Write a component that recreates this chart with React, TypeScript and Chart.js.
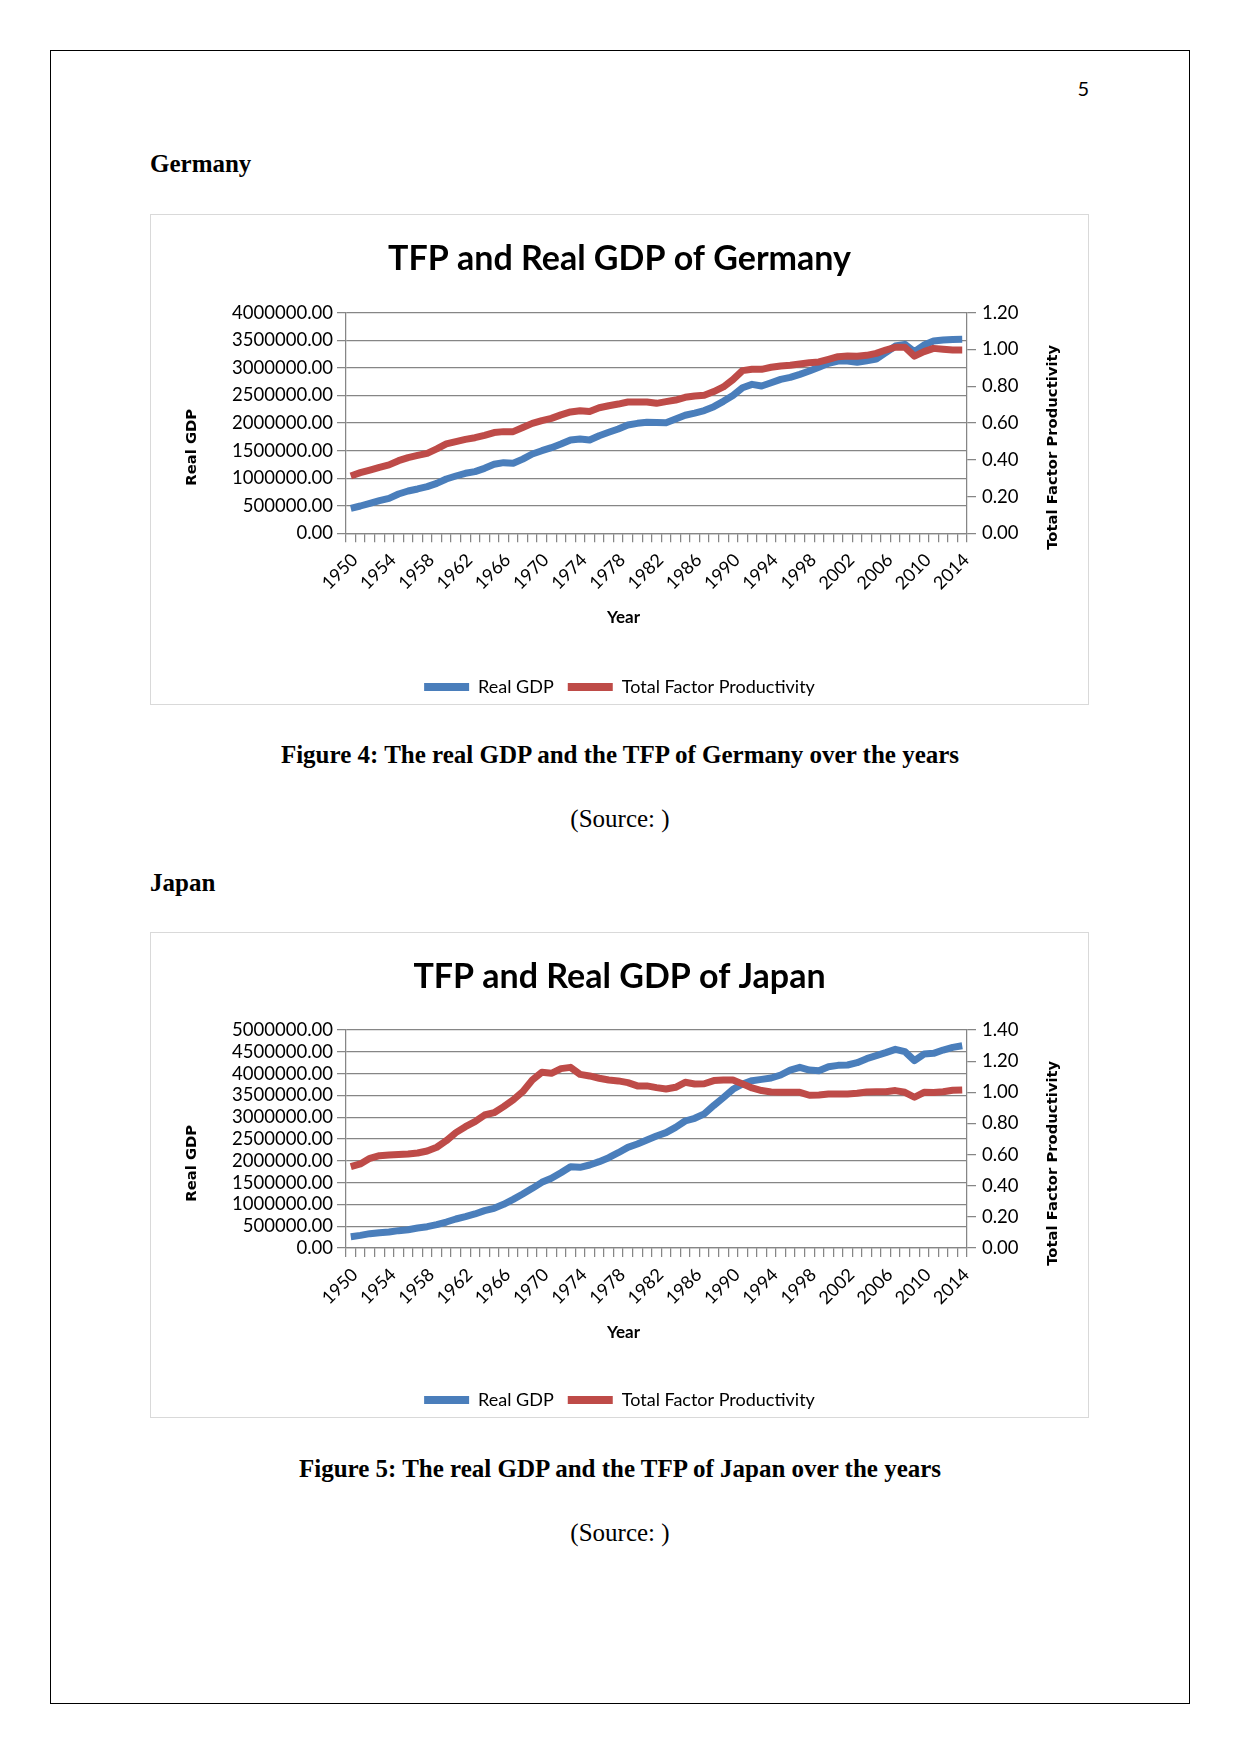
import React, { useEffect, useRef } from 'react';
import { Chart, registerables } from 'chart.js';

Chart.register(...registerables);
Chart.defaults.font.family = 'Lato';
Chart.defaults.color = '#000';

// ---------- data ----------
const years = [
  '1950', '1951', '1952', '1953', '1954', '1955', '1956', '1957', '1958', '1959',
  '1960', '1961', '1962', '1963', '1964', '1965', '1966', '1967', '1968', '1969',
  '1970', '1971', '1972', '1973', '1974', '1975', '1976', '1977', '1978', '1979',
  '1980', '1981', '1982', '1983', '1984', '1985', '1986', '1987', '1988', '1989',
  '1990', '1991', '1992', '1993', '1994', '1995', '1996', '1997', '1998', '1999',
  '2000', '2001', '2002', '2003', '2004', '2005', '2006', '2007', '2008', '2009',
  '2010', '2011', '2012', '2013', '2014',
];
const shownYearLabels = [
  '1950', '1954', '1958', '1962', '1966', '1970', '1974', '1978', '1982',
  '1986', '1990', '1994', '1998', '2002', '2006', '2010', '2014',
];

const germanyGDP = [
  453000, 495000, 544000, 592000, 634000, 713000, 767000, 804000, 846000, 906000,
  985000, 1039000, 1088000, 1118000, 1178000, 1251000, 1281000, 1269000, 1345000, 1438000,
  1498000, 1553000, 1619000, 1692000, 1710000, 1692000, 1770000, 1831000, 1891000, 1964000,
  1994000, 2012000, 2008000, 2003000, 2072000, 2140000, 2180000, 2225000, 2296000, 2393000,
  2500000, 2640000, 2701000, 2670000, 2731000, 2791000, 2828000, 2882000, 2942000, 3009000,
  3081000, 3124000, 3124000, 3100000, 3130000, 3160000, 3275000, 3396000, 3426000, 3293000,
  3414000, 3486000, 3504000, 3516000, 3520000,
];
const germanyTFP = [
  0.312, 0.330, 0.344, 0.359, 0.372, 0.395, 0.412, 0.424, 0.435, 0.459,
  0.486, 0.499, 0.511, 0.520, 0.533, 0.548, 0.553, 0.553, 0.575, 0.598,
  0.613, 0.625, 0.644, 0.660, 0.667, 0.662, 0.683, 0.694, 0.703, 0.714,
  0.714, 0.714, 0.707, 0.716, 0.725, 0.740, 0.747, 0.751, 0.771, 0.796,
  0.836, 0.885, 0.892, 0.892, 0.903, 0.910, 0.914, 0.921, 0.928, 0.932,
  0.946, 0.961, 0.964, 0.963, 0.968, 0.979, 0.997, 1.012, 1.012, 0.964,
  0.988, 1.006, 1.001, 0.997, 0.997,
];
const japanGDP = [
  260000, 290000, 329000, 352000, 367000, 398000, 420000, 459000, 489000, 535000,
  596000, 665000, 719000, 780000, 856000, 910000, 1001000, 1116000, 1238000, 1368000,
  1506000, 1598000, 1728000, 1865000, 1850000, 1904000, 1980000, 2072000, 2186000, 2309000,
  2385000, 2477000, 2569000, 2645000, 2767000, 2913000, 2975000, 3077000, 3270000, 3450000,
  3640000, 3761000, 3838000, 3868000, 3899000, 3968000, 4082000, 4144000, 4082000, 4067000,
  4159000, 4189000, 4197000, 4250000, 4342000, 4411000, 4480000, 4556000, 4503000, 4297000,
  4449000, 4465000, 4541000, 4602000, 4640000,
];
const japanTFP = [
  0.522, 0.540, 0.576, 0.593, 0.597, 0.600, 0.604, 0.610, 0.623, 0.647,
  0.689, 0.741, 0.779, 0.811, 0.854, 0.869, 0.908, 0.951, 1.004, 1.079,
  1.128, 1.122, 1.152, 1.160, 1.115, 1.105, 1.090, 1.079, 1.073, 1.062,
  1.041, 1.041, 1.030, 1.021, 1.032, 1.064, 1.053, 1.055, 1.075, 1.079,
  1.079, 1.054, 1.028, 1.011, 1.002, 1.000, 1.000, 1.000, 0.981, 0.983,
  0.989, 0.989, 0.989, 0.994, 1.002, 1.004, 1.004, 1.011, 1.000, 0.968,
  1.000, 0.998, 1.004, 1.013, 1.015,
];

// axis ranges: [min, max, step]
const germanyGdpAxis = [0, 4000000, 500000];
const germanyTfpAxis = [0, 1.2, 0.2];
const japanGdpAxis = [0, 5000000, 500000];
const japanTfpAxis = [0, 1.4, 0.2];

const seriesNames = ['Real GDP', 'Total Factor Productivity'];
const axisNames = { left: 'Real GDP', right: 'Total Factor Productivity', x: 'Year' };

// ---------- styles ----------
const BLUE = '#4a7ebb';
const RED = '#be4b48';
const GRID = '#868686';

const axisTitlePlugin = {
  id: 'axisTitles',
  afterDraw(chart: any, _args: any, opts: any) {
    const ctx = chart.ctx;
    const items = (opts && opts.items) || [];
    for (let i = 0; i < items.length; i++) {
      const t = items[i];
      ctx.save();
      ctx.translate(t.x, t.y);
      ctx.rotate(t.rotate || 0);
      ctx.font = t.font;
      ctx.fillStyle = '#000';
      ctx.textAlign = 'center';
      ctx.textBaseline = 'middle';
      ctx.fillText(t.text, 0, 0);
      ctx.restore();
    }
  },
};

type Props = {
  title: string;
  gdp: number[];
  tfp: number[];
  gdpAxis: number[];
  tfpAxis: number[];
  plotTop: number;
  plotBottom: number;
  legendCenter: number;
  yearY: number;
  axisTitleY: number;
};

const W = 939;
const H = 500;
const PLOT_LEFT = 196;
const PLOT_RIGHT = 817;

function TfpChart(p: Props) {
  const ref = useRef<HTMLCanvasElement>(null);
  useEffect(() => {
    const titleSize = 34;
    const titleLH = titleSize * 1.2;
    const titlePadTop = 25;
    const titlePadBottom = p.plotTop - titlePadTop - titleLH;
    const legendFont = 18;
    const legendPad = 14;
    const legendTop = p.legendCenter - (legendPad + legendFont / 2);
    const legendH = legendFont + legendPad + 10;
    const xHeight = legendTop - p.plotBottom;
    const padBottom = H - legendTop - legendH;
    const axisTitleFont = 'bold 14.8px "DejaVu Sans"';

    const chart = new Chart(ref.current as HTMLCanvasElement, {
      type: 'line',
      data: {
        labels: years,
        datasets: [
          {
            label: seriesNames[0],
            data: p.gdp,
            yAxisID: 'y',
            borderColor: BLUE,
            backgroundColor: BLUE,
            borderWidth: 7,
            pointRadius: 0,
            borderJoinStyle: 'round',
            order: 1,
          },
          {
            label: seriesNames[1],
            data: p.tfp,
            yAxisID: 'y1',
            borderColor: RED,
            backgroundColor: RED,
            borderWidth: 7,
            pointRadius: 0,
            borderJoinStyle: 'round',
            order: 0,
          },
        ],
      },
      options: {
        responsive: false,
        animation: false,
        devicePixelRatio: 1,
        layout: { padding: { left: 0, right: 0, top: 0, bottom: padBottom } },
        scales: {
          x: {
            type: 'category',
            offset: true,
            grid: {
              offset: true,
              drawOnChartArea: false,
              drawTicks: true,
              tickLength: 9,
              color: GRID,
              lineWidth: 1.25,
            },
            border: { color: GRID, width: 1.25 },
            ticks: {
              autoSkip: false,
              maxRotation: 45,
              minRotation: 45,
              padding: 7,
              labelOffset: 4,
              font: { size: 18 },
              color: '#000',
              callback: (_v: any, i: number) =>
                shownYearLabels.indexOf(years[i]) >= 0 ? years[i] : '',
            },
            afterFit: (s: any) => {
              s.height = xHeight;
            },
          },
          y: {
            position: 'left',
            min: p.gdpAxis[0],
            max: p.gdpAxis[1],
            ticks: {
              stepSize: p.gdpAxis[2],
              autoSkip: false,
              padding: 4,
              font: { size: 18.5 },
              color: '#000',
              callback: (v: any) => Number(v).toFixed(2),
            },
            grid: { color: GRID, lineWidth: 1.25, tickLength: 9 },
            border: { color: GRID, width: 1.25 },
            afterFit: (s: any) => {
              s.width = PLOT_LEFT;
            },
          },
          y1: {
            position: 'right',
            min: p.tfpAxis[0],
            max: p.tfpAxis[1],
            ticks: {
              stepSize: p.tfpAxis[2],
              autoSkip: false,
              padding: 6,
              font: { size: 18.5 },
              color: '#000',
              callback: (v: any) => Number(v).toFixed(2),
            },
            grid: { drawOnChartArea: false, color: GRID, lineWidth: 1.25, tickLength: 9 },
            border: { color: GRID, width: 1.25 },
            afterFit: (s: any) => {
              s.width = W - PLOT_RIGHT;
            },
          },
        },
        plugins: {
          title: {
            display: true,
            text: p.title,
            color: '#000',
            font: { family: 'Lato', size: titleSize, weight: 'bold' },
            padding: { top: titlePadTop, bottom: titlePadBottom },
          },
          legend: {
            display: true,
            position: 'bottom',
            labels: {
              font: { size: legendFont },
              color: '#000',
              boxWidth: 45,
              boxHeight: 8,
              padding: legendPad,
              sort: (a: any, b: any) => a.datasetIndex - b.datasetIndex,
              generateLabels: (c: any) =>
                (Chart.defaults.plugins.legend.labels.generateLabels as any)(c).map((l: any) => ({
                  ...l,
                  lineWidth: 0,
                })),
            },
          },
          tooltip: { enabled: false },
          axisTitles: {
            items: [
              { text: axisNames.left, x: 42.5, y: p.axisTitleY, rotate: -Math.PI / 2, font: axisTitleFont },
              { text: axisNames.right, x: 903, y: p.axisTitleY, rotate: -Math.PI / 2, font: axisTitleFont },
              { text: axisNames.x, x: 473.5, y: p.yearY, rotate: 0, font: 'bold 17px Lato' },
            ],
          },
        } as any,
      },
      plugins: [axisTitlePlugin as any],
    } as any);
    return () => chart.destroy();
  }, []);
  return (
    <canvas
      ref={ref}
      width={W}
      height={H}
      style={{ position: 'absolute', left: -1, top: -1, width: W, height: H }}
    />
  );
}

const serif = '"Liberation Serif", "Times New Roman", serif';

function Text(props: { top: number; left: number; width?: number; bold?: boolean; center?: boolean; children: any }) {
  return (
    <div
      style={{
        position: 'absolute',
        top: props.top,
        left: props.left,
        width: props.width,
        fontFamily: serif,
        fontSize: 25,
        lineHeight: '25px',
        fontWeight: props.bold ? 'bold' : 'normal',
        textAlign: props.center ? 'center' : 'left',
        whiteSpace: 'nowrap',
        color: '#000',
      }}
    >
      {props.children}
    </div>
  );
}

export default function App() {
  return (
    <div style={{ position: 'absolute', left: 0, top: 0, width: 1241, height: 1754, background: '#fff', overflow: 'hidden' }}>
      <div
        style={{
          position: 'absolute',
          left: 50,
          top: 50,
          width: 1140,
          height: 1654,
          border: '1px solid #000',
          boxSizing: 'border-box',
        }}
      />
      <div
        style={{
          position: 'absolute',
          left: 1000,
          top: 78,
          width: 89,
          textAlign: 'right',
          fontFamily: 'Lato',
          fontSize: 20,
          lineHeight: '20px',
          color: '#000',
        }}
      >
        5
      </div>

      <Text top={151} left={150} bold>Germany</Text>
      <div
        style={{
          position: 'absolute',
          left: 150,
          top: 214,
          width: 939,
          height: 491,
          border: '1px solid #d9d9d9',
          boxSizing: 'border-box',
        }}
      >
        <TfpChart
          title="TFP and Real GDP of Germany"
          gdp={germanyGDP}
          tfp={germanyTFP}
          gdpAxis={germanyGdpAxis}
          tfpAxis={germanyTfpAxis}
          plotTop={98.7}
          plotBottom={319.3}
          legendCenter={473}
          yearY={403.7}
          axisTitleY={233.3}
        />
      </div>
      <Text top={742} left={150} width={940} bold center>
        Figure 4: The real GDP and the TFP of Germany over the years
      </Text>
      <Text top={806} left={150} width={940} center>(Source: )</Text>

      <Text top={869.5} left={150} bold>Japan</Text>
      <div
        style={{
          position: 'absolute',
          left: 150,
          top: 932,
          width: 939,
          height: 486,
          border: '1px solid #d9d9d9',
          boxSizing: 'border-box',
        }}
      >
        <TfpChart
          title="TFP and Real GDP of Japan"
          gdp={japanGDP}
          tfp={japanTFP}
          gdpAxis={japanGdpAxis}
          tfpAxis={japanTfpAxis}
          plotTop={98}
          plotBottom={316}
          legendCenter={468}
          yearY={400.4}
          axisTitleY={231.3}
        />
      </div>
      <Text top={1456} left={150} width={940} bold center>
        Figure 5: The real GDP and the TFP of Japan over the years
      </Text>
      <Text top={1520} left={150} width={940} center>(Source: )</Text>
    </div>
  );
}
